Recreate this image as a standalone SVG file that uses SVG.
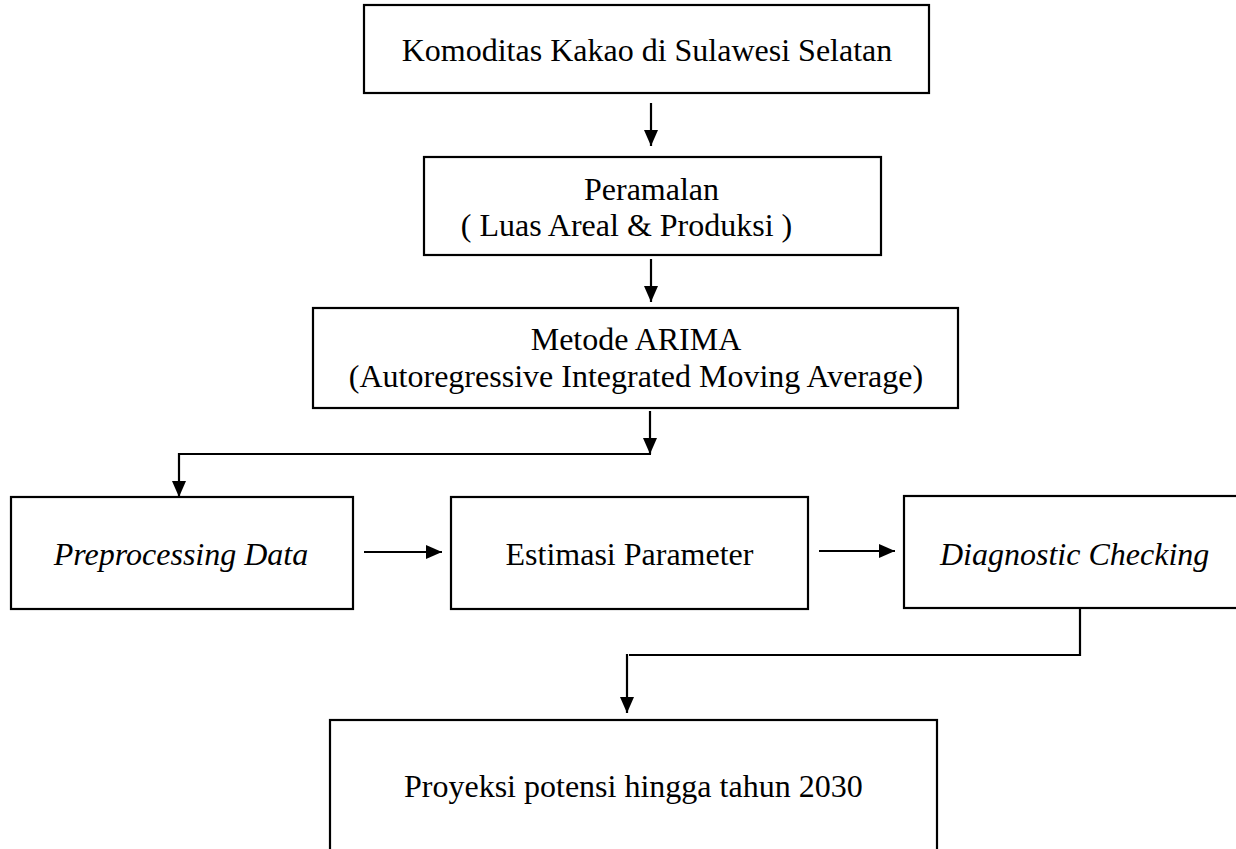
<svg xmlns="http://www.w3.org/2000/svg" width="1236" height="849" viewBox="0 0 1236 849">
  <style>
    .box { fill: #ffffff; stroke: #000000; stroke-width: 2.2; }
    .lbl { font-family: "Liberation Serif", "Times New Roman", serif; font-size: 32px; fill: #000000; }
    .it { font-style: italic; }
    .mid { text-anchor: middle; }
    .conn { fill: none; stroke: #000000; stroke-width: 2.2; }
  </style>
  <defs>
    <marker id="ah" viewBox="0 0 16 14" markerUnits="userSpaceOnUse" markerWidth="16" markerHeight="14" refX="16" refY="7" orient="auto">
      <path d="M0,0 L16,7 L0,14 z" fill="#000000"/>
    </marker>
  </defs>
  <rect x="0" y="0" width="1236" height="849" fill="#ffffff"/>

  <g id="node-komoditas">
    <rect class="box" x="364" y="5" width="565" height="88"/>
    <text class="lbl mid" x="647" y="61">Komoditas Kakao di Sulawesi Selatan</text>
  </g>

  <g id="node-peramalan">
    <rect class="box" x="424" y="157" width="457" height="98"/>
    <text class="lbl mid" x="651.5" y="200">Peramalan</text>
    <text class="lbl mid" x="626.5" y="236">( Luas Areal &amp; Produksi )</text>
  </g>

  <g id="node-arima">
    <rect class="box" x="313" y="308" width="645" height="100"/>
    <text class="lbl mid" x="636" y="350">Metode ARIMA</text>
    <text class="lbl mid" x="636" y="387">(Autoregressive Integrated Moving Average)</text>
  </g>

  <g id="node-preprocessing">
    <rect class="box" x="11" y="497" width="342" height="112"/>
    <text class="lbl it mid" x="181" y="565">Preprocessing Data</text>
  </g>

  <g id="node-estimasi">
    <rect class="box" x="451" y="497" width="357" height="112"/>
    <text class="lbl mid" x="629.5" y="565">Estimasi Parameter</text>
  </g>

  <g id="node-diagnostic">
    <rect class="box" x="904" y="496" width="345" height="112"/>
    <text class="lbl it" x="940" y="565">Diagnostic Checking</text>
  </g>

  <g id="node-proyeksi">
    <rect class="box" x="330" y="720" width="607" height="145"/>
    <text class="lbl" x="404" y="797">Proyeksi potensi hingga tahun 2030</text>
  </g>

  <g id="connectors">
    <line class="conn" x1="651" y1="103" x2="651" y2="146" marker-end="url(#ah)"/>
    <line class="conn" x1="651" y1="259" x2="651" y2="302" marker-end="url(#ah)"/>
    <line class="conn" x1="650" y1="411" x2="650" y2="454" marker-end="url(#ah)"/>
    <polyline class="conn" points="651,454 179,454 179,497" marker-end="url(#ah)"/>
    <line class="conn" x1="364" y1="552" x2="442" y2="552" marker-end="url(#ah)"/>
    <line class="conn" x1="819" y1="551" x2="895" y2="551" marker-end="url(#ah)"/>
    <polyline class="conn" points="1080,608 1080,655 629,655"/>
    <line class="conn" x1="627" y1="654" x2="627" y2="713" marker-end="url(#ah)"/>
  </g>
</svg>
